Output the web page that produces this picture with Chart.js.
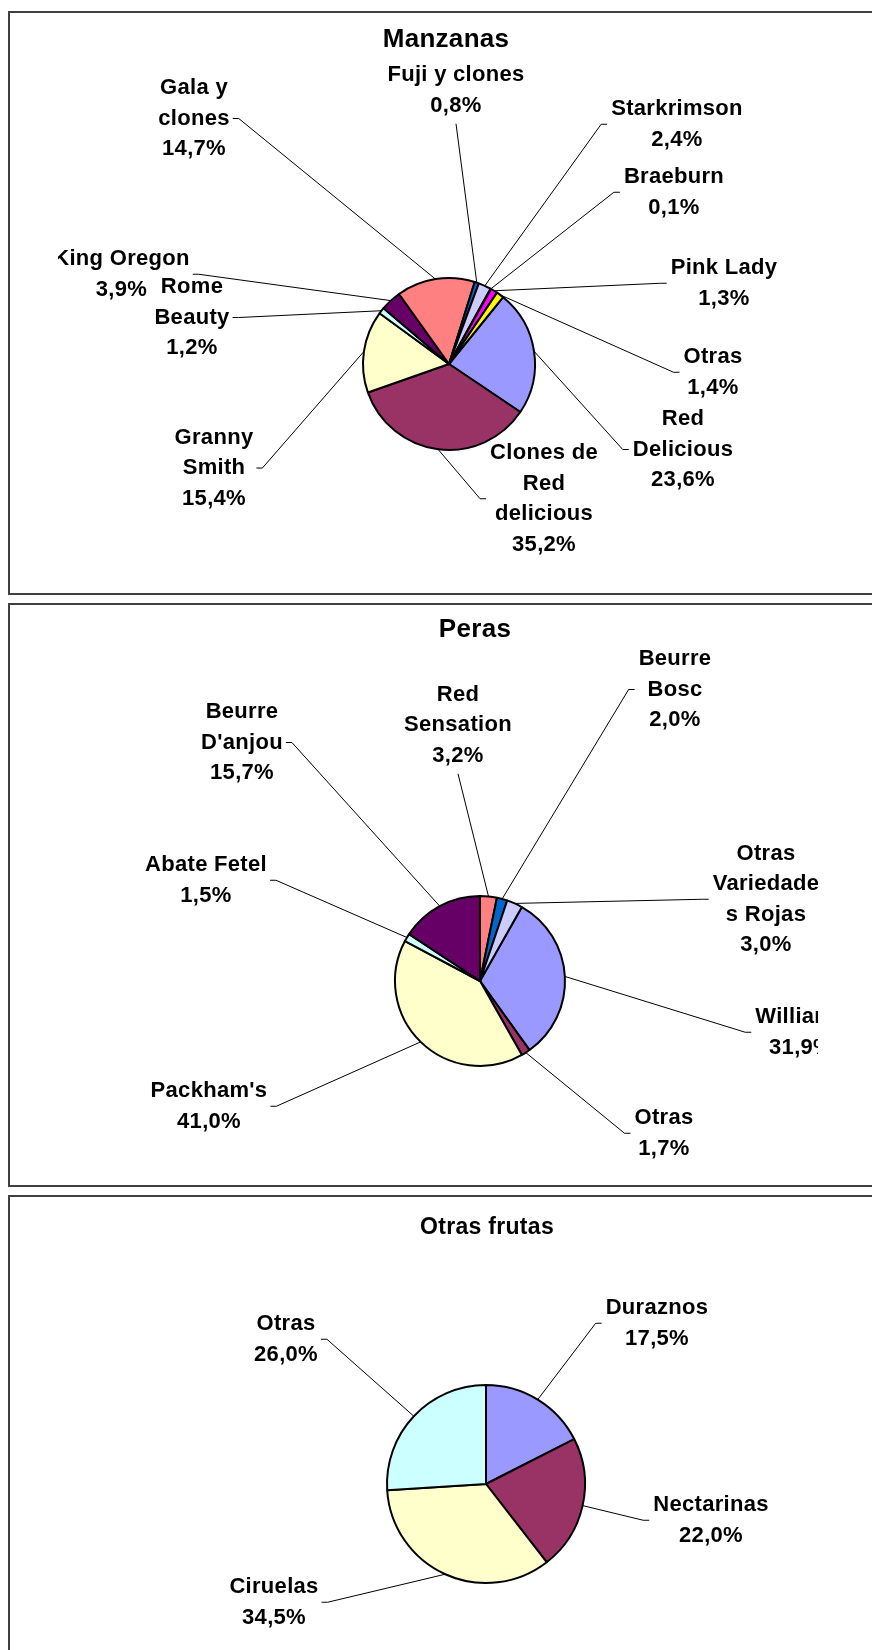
<!DOCTYPE html>
<html>
<head>
<meta charset="utf-8">
<script src="https://cdn.jsdelivr.net/npm/chart.js@4.4.1/dist/chart.umd.min.js"></script>
<style>
  html, body { margin: 0; padding: 0; background: #fff; }
  body { position: relative; width: 872px; height: 1650px; overflow: hidden; }
  .panel { position: absolute; left: 8px; width: 900px; height: 584px; border: 2px solid #404040; box-sizing: border-box; }
  canvas { position: absolute; left: 0; }
</style>
</head>
<body>
<div class="panel" style="top:11px"></div>
<div class="panel" style="top:603px"></div>
<div class="panel" style="top:1195px"></div>
<canvas id="manzanas" width="872" height="584" style="top:11px"></canvas>
<canvas id="peras" width="872" height="584" style="top:603px"></canvas>
<canvas id="otras" width="872" height="584" style="top:1195px"></canvas>

<script>
// data (percent of each variety)
const manzanasLabels = ['Red Delicious', 'Clones de Red delicious', 'Granny Smith', 'Rome Beauty', 'King Oregon',
  'Gala y clones', 'Fuji y clones', 'Starkrimson', 'Braeburn', 'Pink Lady', 'Otras'];
const manzanasValues = [23.6, 35.2, 15.4, 1.2, 3.9, 14.7, 0.8, 2.4, 0.1, 1.3, 1.4];

const perasLabels = ['Williams', 'Otras', "Packham's", 'Abate Fetel', "Beurre D'anjou", 'Red Sensation',
  'Beurre Bosc', 'Otras Variedades Rojas'];
const perasValues = [31.9, 1.7, 41.0, 1.5, 15.7, 3.2, 2.0, 3.0];

const otrasLabels = ['Duraznos', 'Nectarinas', 'Ciruelas', 'Otras'];
const otrasValues = [17.5, 22.0, 34.5, 26.0];

// old excel chart palette, in point order
const excelColors = ['#9999FF', '#993366', '#FFFFCC', '#CCFFFF', '#660066', '#FF8080',
  '#0066CC', '#CCCCFF', '#000080', '#FF00FF', '#FFFF00'];

// label placement (page coordinates), one entry per slice
const manzanasPlaces = [
  { lines: ['Red', 'Delicious'], cx: 683, y: 419, side: 'r' },
  { lines: ['Clones de', 'Red', 'delicious'], cx: 544, y: 453, side: 'r' },
  { lines: ['Granny', 'Smith'], cx: 214, y: 437.5, side: 'l' },
  { lines: ['Rome', 'Beauty'], cx: 192, y: 287, side: 'l' },
  { lines: ['King Oregon'], cx: 121.5, y: 259, side: 'l' },
  { lines: ['Gala y', 'clones'], cx: 194, y: 88, side: 'l' },
  { lines: ['Fuji y clones'], cx: 456, y: 75, side: 'b' },
  { lines: ['Starkrimson'], cx: 677, y: 109, side: 'r' },
  { lines: ['Braeburn'], cx: 674, y: 177, side: 'r' },
  { lines: ['Pink Lady'], cx: 724, y: 268, side: 'r' },
  { lines: ['Otras'], cx: 713, y: 357, side: 'r' }
];
const perasPlaces = [
  { lines: ['Williams'], cx: 801, y: 1017, side: 'r' },
  { lines: ['Otras'], cx: 664, y: 1118, side: 'r' },
  { lines: ["Packham's"], cx: 209, y: 1091, side: 'l' },
  { lines: ['Abate Fetel'], cx: 206, y: 865, side: 'l' },
  { lines: ['Beurre', "D'anjou"], cx: 242, y: 712, side: 'l' },
  { lines: ['Red', 'Sensation'], cx: 458, y: 694.5, side: 'b' },
  { lines: ['Beurre', 'Bosc'], cx: 675, y: 659, side: 'r' },
  { lines: ['Otras', 'Variedade', 's Rojas'], cx: 766, y: 853.5, side: 'r' }
];
const otrasPlaces = [
  { lines: ['Duraznos'], cx: 657, y: 1308, side: 'r' },
  { lines: ['Nectarinas'], cx: 711, y: 1505, side: 'r' },
  { lines: ['Ciruelas'], cx: 274, y: 1587, side: 'l' },
  { lines: ['Otras'], cx: 286, y: 1324, side: 'l' }
];

const LINE_H = 30.5;
const LABEL_SIZE = 22;
const CLIP_LEFT = 58, CLIP_RIGHT = 818;

function pct(v) {
  return v.toFixed(1).replace('.', ',') + '%';
}

function setFont(ctx, size) {
  ctx.font = 'bold ' + size + 'px "Liberation Sans", Arial, sans-serif';
  ctx.letterSpacing = '0.3px';
}

/**
 * Plugin drawing the title, the outside labels and their leader lines.
 */
function leaderPlugin(cfg) {
  return {
    id: 'leader-' + cfg.id,
    afterDraw(chart) {
      let ctx = chart.ctx;
      let top = cfg.top;
      let arcs = chart.getDatasetMeta(0).data;
      let values = chart.data.datasets[0].data;
      ctx.save();
      ctx.fillStyle = '#000';
      ctx.strokeStyle = '#000';
      ctx.lineWidth = 1;
      ctx.textAlign = 'center';
      ctx.textBaseline = 'middle';

      setFont(ctx, cfg.titleSize);
      ctx.fillText(cfg.title, cfg.titleX, cfg.titleY - top);

      ctx.beginPath();
      ctx.rect(CLIP_LEFT, 0, CLIP_RIGHT - CLIP_LEFT, chart.height);
      ctx.clip();
      setFont(ctx, LABEL_SIZE);

      cfg.places.forEach((p, i) => {
        let lines = p.lines.concat(pct(values[i]));
        let w = Math.max(...lines.map(l => ctx.measureText(l).width));
        let y0 = p.y - top;
        lines.forEach((l, k) => ctx.fillText(l, p.cx, y0 + k * LINE_H));

        let arc = arcs[i].getProps(['x', 'y', 'startAngle', 'endAngle', 'outerRadius'], true);
        let mid = (arc.startAngle + arc.endAngle) / 2;
        let px = arc.x + Math.cos(mid) * arc.outerRadius;
        let py = arc.y + Math.sin(mid) * arc.outerRadius;

        ctx.beginPath();
        if (p.side === 'b') {
          ctx.moveTo(p.cx, y0 + (lines.length - 1) * LINE_H + LINE_H / 2 + 3);
        } else {
          let ay = y0 + (lines.length - 1) * LINE_H / 2;
          let ax = p.side === 'l' ? p.cx + w / 2 + 3 : p.cx - w / 2 - 4;
          let elbow = p.side === 'l' ? 6 : -6;
          ctx.moveTo(ax, ay);
          ctx.lineTo(ax + elbow, ay);
        }
        ctx.lineTo(px, py);
        ctx.stroke();
      });
      ctx.restore();
    }
  };
}

function makePie(cfg) {
  let h = 584;
  let s = cfg.radius + 6;
  let cy = cfg.cy - cfg.top;
  new Chart(document.getElementById(cfg.id), {
    type: 'pie',
    data: {
      labels: cfg.labels,
      datasets: [{
        data: cfg.values,
        backgroundColor: excelColors.slice(0, cfg.values.length),
        borderColor: '#000',
        borderWidth: 2
      }]
    },
    options: {
      responsive: false,
      animation: false,
      devicePixelRatio: 1,
      rotation: cfg.rotation,
      radius: cfg.radius,
      layout: {
        padding: { left: cfg.cx - s, right: 872 - cfg.cx - s, top: cy - s, bottom: h - cy - s }
      },
      plugins: { legend: { display: false }, title: { display: false }, tooltip: { enabled: false } }
    },
    plugins: [leaderPlugin(cfg)]
  });
}

makePie({
  id: 'manzanas', top: 11, labels: manzanasLabels, values: manzanasValues, places: manzanasPlaces,
  rotation: 39, cx: 449, cy: 364, radius: 86,
  title: 'Manzanas', titleSize: 26, titleX: 446, titleY: 40
});
makePie({
  id: 'peras', top: 603, labels: perasLabels, values: perasValues, places: perasPlaces,
  rotation: 29.5, cx: 480, cy: 981, radius: 85,
  title: 'Peras', titleSize: 26, titleX: 475, titleY: 630
});
makePie({
  id: 'otras', top: 1195, labels: otrasLabels, values: otrasValues, places: otrasPlaces,
  rotation: 0, cx: 486, cy: 1484, radius: 99,
  title: 'Otras frutas', titleSize: 23, titleX: 487, titleY: 1227.5
});
</script>
</body>
</html>
